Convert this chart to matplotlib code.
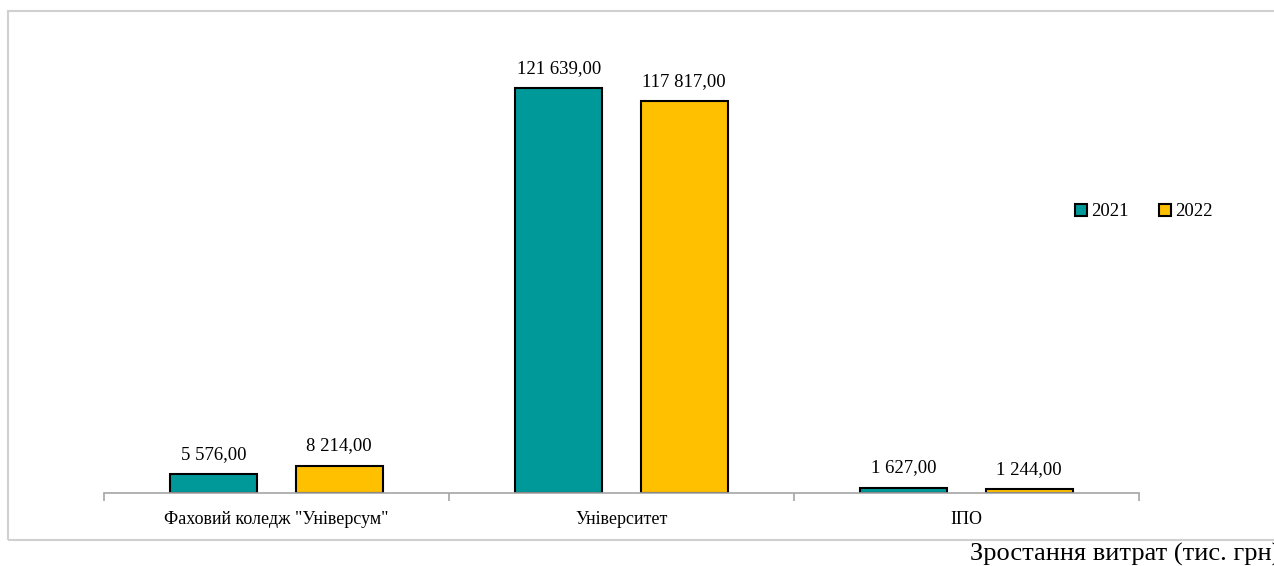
import matplotlib
matplotlib.use("Agg")
from matplotlib import pyplot as plt
from matplotlib.patches import Rectangle
import numpy as np

# Data
categories = ['Фаховий коледж "Універсум"', 'Університет', 'ІПО']
years = ['2021', '2022']
values_2021 = [5576, 121639, 1627]
values_2022 = [8214, 117817, 1244]
colors = ['#009999', '#FFC000']

plt.rcParams['font.family'] = ['Liberation Serif', 'DejaVu Serif']

fig = plt.figure(figsize=(12.74, 5.66), dpi=100)
ax = fig.add_axes([104 / 1274, 1 - 493 / 566, (1139 - 104) / 1274, (493 - 27) / 566])

x = np.arange(len(categories))
width = 0.252
offset = 0.182
series = [values_2021, values_2022]
for k, vals in enumerate(series):
    pos = x + (offset if k else -offset)
    bars = ax.bar(pos, vals, width, color=colors[k], edgecolor='black',
                  linewidth=1.5, label=years[k])
    for b, v in zip(bars, vals):
        txt = f'{v:,}'.replace(',', ' ') + ',00'
        ax.annotate(txt, (b.get_x() + b.get_width() / 2, v),
                    xytext=(0, 8), textcoords='offset points',
                    ha='center', va='bottom', fontsize=13.5)

ax.set_xlim(-0.5, len(categories) - 0.5)
ax.set_ylim(0, 140000)
ax.set_yticks([])
for s in ['top', 'right', 'left']:
    ax.spines[s].set_visible(False)
ax.spines['bottom'].set_color('#a6a6a6')
ax.spines['bottom'].set_linewidth(1.2)

ax.set_xticks(x)
ax.set_xticklabels(categories, fontsize=13)
ax.tick_params(axis='x', length=0, pad=13)
ax.set_xticks(np.arange(len(categories) + 1) - 0.5, minor=True)
ax.tick_params(axis='x', which='minor', length=6, color='#a6a6a6', width=1.2)

leg = ax.legend(loc='center left', bbox_to_anchor=(1058 / 1274, 1 - 212 / 566),
                bbox_transform=fig.transFigure, ncol=2, frameon=False,
                fontsize=13.5, handlelength=0.65, handleheight=0.65,
                handletextpad=0.2, columnspacing=1.65)

# chart frame
fig.add_artist(Rectangle((8 / 1274, 1 - 540 / 566), 1.1, (540 - 11) / 566,
                         transform=fig.transFigure, fill=False,
                         edgecolor='#d0d0d0', linewidth=1.5))

fig.text(970 / 1274, 1 - 561 / 566, 'Зростання витрат (тис. грн)',
         fontsize=19, ha='left', va='baseline')

fig.savefig('out.png', dpi=100)
plt.close()
